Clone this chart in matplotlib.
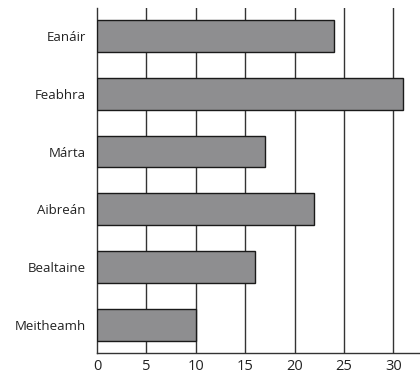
import matplotlib
matplotlib.use("Agg")
import matplotlib.pyplot as plt

months = ["Eanáir", "Feabhra", "Márta", "Aibreán", "Bealtaine", "Meitheamh"]
values = [24, 31, 17, 22, 16, 10]
xticks = [0, 5, 10, 15, 20, 25, 30]

plt.rcParams['font.family'] = ['Open Sans', 'DejaVu Sans']

fig = plt.figure(figsize=(4.2, 3.76), dpi=100)
ax = fig.add_axes([0.231, 0.061, 0.767, 0.918])

ypos = list(range(len(months)))[::-1]
ax.barh(ypos, values, height=0.55, color='#8e8e90', edgecolor='#1a1a1a', linewidth=1.0, zorder=3)

ax.set_xlim(0, 32.6)
ax.set_ylim(-0.485, 5.485)
ax.set_xticks(xticks)
ax.set_yticks(ypos)
ax.set_yticklabels(months)

for x in xticks[1:]:
    ax.axvline(x, color='#333333', linewidth=1.0, zorder=1)

for s in ['top', 'right']:
    ax.spines[s].set_visible(False)
for s in ['left', 'bottom']:
    ax.spines[s].set_color('#333333')
    ax.spines[s].set_linewidth(1.0)

ax.tick_params(axis='y', length=0, labelsize=9.5, colors='#222222', pad=8)
ax.tick_params(axis='x', length=0, labelsize=10.5, colors='#222222', pad=4)

fig.savefig("out.png", dpi=100)
